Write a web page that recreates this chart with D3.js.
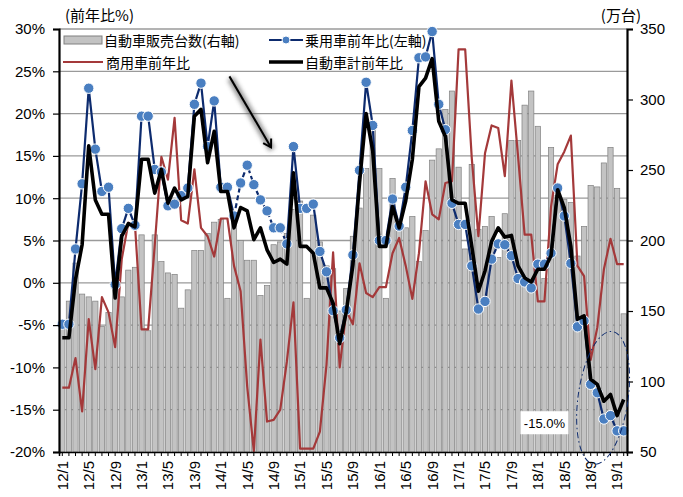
<!DOCTYPE html>
<html>
<head>
<meta charset="utf-8">
<script src="https://cdn.jsdelivr.net/npm/d3@7"></script>
<style>
  body { margin: 0; background: #fff; }
  svg { display: block; }
</style>
</head>
<body>
<svg id="chart"></svg>
<script>
// monthly categories 2012/1 - 2019/2
const months = [
  "12/1","12/2","12/3","12/4","12/5","12/6","12/7","12/8","12/9","12/10","12/11","12/12",
  "13/1","13/2","13/3","13/4","13/5","13/6","13/7","13/8","13/9","13/10","13/11","13/12",
  "14/1","14/2","14/3","14/4","14/5","14/6","14/7","14/8","14/9","14/10","14/11","14/12",
  "15/1","15/2","15/3","15/4","15/5","15/6","15/7","15/8","15/9","15/10","15/11","15/12",
  "16/1","16/2","16/3","16/4","16/5","16/6","16/7","16/8","16/9","16/10","16/11","16/12",
  "17/1","17/2","17/3","17/4","17/5","17/6","17/7","17/8","17/9","17/10","17/11","17/12",
  "18/1","18/2","18/3","18/4","18/5","18/6","18/7","18/8","18/9","18/10","18/11","18/12",
  "19/1","19/2"
];

// 自動車販売台数 (万台, right axis)
const sales = [
  137,157,184,162,160,157,139,149,169,160,179,181,
  204,136,204,185,177,176,152,165,193,193,205,213,
  215,159,214,200,186,186,161,168,197,199,205,222,
  228,159,218,199,182,180,150,166,203,223,251,279,
  251,159,244,212,209,217,185,207,257,265,293,306,
  252,194,254,208,210,217,188,219,271,271,296,306,
  281,173,266,232,229,227,189,210,239,238,255,266,
  237,148
];

// 乗用車前年比 (%)
const passengerYoY = [
  -4.9,-4.9,4.0,11.7,23.0,15.8,10.8,11.3,-0.2,6.4,8.8,6.8,
  19.7,19.7,13.4,13.1,9.1,9.3,10.3,11.2,21.1,23.6,16.1,21.5,
  11.3,11.3,7.9,11.8,13.9,11.6,9.8,8.5,6.5,6.5,4.6,16.1,
  8.8,8.8,9.3,3.7,1.3,-3.3,-6.5,-3.2,3.3,13.3,23.7,18.6,
  5.0,5.0,9.9,6.7,11.3,18.0,26.6,26.7,29.7,21.1,18.1,9.4,
  6.9,6.9,2.0,-3.1,-2.2,2.8,4.6,4.5,3.2,0.5,0.1,-0.6,
  2.2,2.2,3.5,11.2,7.9,2.3,-5.2,-4.5,-12.0,-13.0,-16.1,-15.7,
  -17.5,-17.5
];

// 商用車前年比 (%)
const commercialYoY = [
  -12.4,-12.4,-8.9,-15.2,-4.3,-10.2,-1.7,-3.5,-7.6,2.8,7.1,6.9,
  -5.5,-5.5,4.5,14.9,12.2,19.5,7.4,7.0,13.4,6.5,5.5,3.1,
  7.6,7.6,2.0,-1.0,-12.3,-19.9,-6.7,-16.4,-16.2,-15.0,-9.3,-2.3,
  -19.6,-19.6,-19.6,-17.6,-9.7,3.6,-10.0,-3.3,-4.9,2.3,-1.2,-1.7,
  -0.5,-0.5,3.5,5.3,2.0,-1.9,3.5,12.0,8.1,7.5,11.8,12.0,
  27.6,27.6,14.7,5.5,15.3,18.6,18.3,12.6,23.9,15.0,5.7,5.7,
  -2.2,-2.2,9.0,14.0,15.5,17.4,2.0,0.8,-9.1,-5.3,1.6,5.2,
  2.2,2.2
];

// 自動車計前年比 (%)
const totalYoY = [
  -6.5,-6.5,0.4,4.5,16.2,9.8,8.1,8.1,-1.8,5.5,7.0,6.6,
  14.6,14.6,10.6,13.4,9.4,11.2,9.8,10.2,19.7,20.5,14.2,17.9,
  10.8,10.8,6.5,8.9,8.5,5.1,6.5,3.9,2.4,2.8,2.2,13.0,
  4.3,4.3,3.5,-0.6,-0.6,-2.4,-7.2,-3.4,2.1,11.8,20.0,15.6,
  4.3,4.3,9.0,6.5,9.7,14.6,23.2,24.2,26.5,19.1,17.3,9.8,
  9.4,9.4,4.3,-1.0,1.4,4.9,6.5,5.4,5.6,2.0,0.6,0.1,
  1.6,1.6,3.2,11.0,8.9,4.3,-4.3,-3.9,-11.4,-12.0,-14.0,-13.2,
  -15.7,-13.8
];

const leftTicks = [-20,-15,-10,-5,0,5,10,15,20,25,30];
const rightTicks = [50,100,150,200,250,300,350];
const labelMonths = months.filter((d, i) => i % 4 === 0);
const dashedRange = ["14/3", "14/11"];   // blue line drawn dashed here
const callout = "-15.0%";

const width = 683, height = 497;
const margin = { top: 29, right: 56, bottom: 45, left: 59 };
const plotW = width - margin.left - margin.right,
      plotH = height - margin.top - margin.bottom;

const svg = d3.select("#chart")
    .attr("width", width)
    .attr("height", height);

const g = svg.append("g")
    .attr("transform", `translate(${margin.left},${margin.top})`);

const x = d3.scaleBand()
    .domain(months)
    .range([0, plotW])
    .paddingInner(0.2)
    .paddingOuter(0.1);
const cx = d => x(d) + x.bandwidth() / 2;

const yL = d3.scaleLinear().domain([-20, 30]).range([plotH, 0]);
const yR = d3.scaleLinear().domain([50, 350]).range([plotH, 0]);

const numFont = "'Liberation Sans', Arial, sans-serif";
const jpFont = "'Noto Sans CJK JP', 'Noto Sans', sans-serif";

// gridlines
g.append("g")
    .selectAll("line")
    .data(leftTicks.filter(t => t > -20))
    .enter().append("line")
    .attr("x1", 0).attr("x2", plotW)
    .attr("y1", d => yL(d)).attr("y2", d => yL(d))
    .attr("stroke", "#9a9a9a")
    .attr("stroke-width", 1.3);

// bars
g.append("g")
    .selectAll("rect")
    .data(sales)
    .enter().append("rect")
    .attr("x", (d, i) => x(months[i]))
    .attr("y", d => yR(d))
    .attr("width", x.bandwidth())
    .attr("height", d => plotH - yR(d))
    .attr("fill", "#c3c3c3")
    .attr("stroke", "#808080")
    .attr("stroke-width", 0.7);

// commercial line
const line = d3.line().x(d => cx(d.m)).y(d => yL(d.v));
const toPts = arr => arr.map((v, i) => ({ m: months[i], v }));

g.append("path")
    .datum(toPts(commercialYoY))
    .attr("d", line)
    .attr("fill", "none")
    .attr("stroke", "#a4393a")
    .attr("stroke-width", 2.2)
    .attr("stroke-linejoin", "round");

// passenger line (partly dashed)
const pPts = toPts(passengerYoY);
const d0 = months.indexOf(dashedRange[0]), d1 = months.indexOf(dashedRange[1]);
[[0, d0, null], [d0, d1, "5,3"], [d1, months.length - 1, null]].forEach(([a, b, dash]) => {
    g.append("path")
        .datum(pPts.slice(a, b + 1))
        .attr("d", line)
        .attr("fill", "none")
        .attr("stroke", "#0d2b6e")
        .attr("stroke-width", 2.2)
        .attr("stroke-dasharray", dash);
});

g.append("g")
    .selectAll("circle")
    .data(pPts)
    .enter().append("circle")
    .attr("cx", d => cx(d.m))
    .attr("cy", d => yL(d.v))
    .attr("r", 5.2)
    .attr("fill", "#4a7fc1")
    .attr("stroke", "#fff")
    .attr("stroke-width", 1);

// total line
g.append("path")
    .datum(toPts(totalYoY))
    .attr("d", line)
    .attr("fill", "none")
    .attr("stroke", "#000")
    .attr("stroke-width", 3.6)
    .attr("stroke-linejoin", "round");

// axes
const axL = g.append("g")
    .call(d3.axisLeft(yL).tickValues(leftTicks).tickFormat(d => d + "%").tickSize(6).tickPadding(8));
const axR = g.append("g")
    .attr("transform", `translate(${plotW},0)`)
    .call(d3.axisRight(yR).tickValues(rightTicks).tickSize(6).tickPadding(7));
[axL, axR].forEach(ax => {
    ax.select(".domain").attr("stroke", "#000").attr("stroke-width", 2.2);
    ax.selectAll(".tick line").attr("stroke", "#000").attr("stroke-width", 1.2);
    ax.selectAll("text")
        .style("font-family", numFont)
        .style("font-size", "15px")
        .attr("fill", "#000");
});

const axB = g.append("g")
    .attr("transform", `translate(0,${plotH})`)
    .call(d3.axisBottom(x).tickValues(months).tickSize(4).tickFormat(""));
axB.select(".domain").attr("stroke", "#000").attr("stroke-width", 1.5);
axB.selectAll(".tick line").attr("stroke", "#000");

g.append("g")
    .selectAll("text")
    .data(labelMonths)
    .enter().append("text")
    .attr("transform", d => `translate(${cx(d)},${plotH + 9}) rotate(-90)`)
    .attr("text-anchor", "end")
    .attr("dy", "0.36em")
    .style("font-family", numFont)
    .style("font-size", "15px")
    .text(d => d);

// axis titles
svg.append("text")
    .attr("x", 65).attr("y", 21)
    .style("font-family", jpFont)
    .style("font-size", "15px")
    .text("(前年比%)");
svg.append("text")
    .attr("x", 641).attr("y", 21)
    .attr("text-anchor", "end")
    .style("font-family", jpFont)
    .style("font-size", "15px")
    .text("(万台)");

// legend
const leg = g.append("g").style("font-family", jpFont).style("font-size", "14px");
leg.append("rect").attr("x", 5).attr("y", 7).attr("width", 38).attr("height", 8)
    .attr("fill", "#c3c3c3").attr("stroke", "#808080");
leg.append("text").attr("x", 45).attr("y", 16.5).text("自動車販売台数(右軸)");
leg.append("line").attr("x1", 210).attr("x2", 244).attr("y1", 11).attr("y2", 11)
    .attr("stroke", "#0d2b6e").attr("stroke-width", 2.2);
leg.append("circle").attr("cx", 227).attr("cy", 11).attr("r", 4)
    .attr("fill", "#4a7fc1").attr("stroke", "#fff");
leg.append("text").attr("x", 246).attr("y", 16.5).text("乗用車前年比(左軸)");
leg.append("line").attr("x1", 4).attr("x2", 44).attr("y1", 33).attr("y2", 33)
    .attr("stroke", "#a4393a").attr("stroke-width", 2.2);
leg.append("text").attr("x", 47).attr("y", 38.5).text("商用車前年比");
leg.append("line").attr("x1", 210).attr("x2", 244).attr("y1", 33).attr("y2", 33)
    .attr("stroke", "#000").attr("stroke-width", 3.6);
leg.append("text").attr("x", 246).attr("y", 38.5).text("自動車計前年比");

// arrow annotation
const defs = svg.append("defs");
defs.append("filter").attr("id", "blur")
    .attr("x", "-50%").attr("y", "-50%").attr("width", "200%").attr("height", "200%")
    .append("feGaussianBlur").attr("stdDeviation", 2.2);
const ax0 = cx("14/2") + 2, ay0 = yL(24.4), ax1 = cx("14/8") + 4, ay1 = yL(16.0);
g.append("line")
    .attr("x1", ax0 + 1).attr("y1", ay0 + 2).attr("x2", ax1 + 1).attr("y2", ay1 + 2)
    .attr("stroke", "#555").attr("stroke-width", 7).attr("opacity", 0.6)
    .attr("filter", "url(#blur)");
g.append("line")
    .attr("x1", ax0).attr("y1", ay0).attr("x2", ax1).attr("y2", ay1)
    .attr("stroke", "#000").attr("stroke-width", 2);
const ang = Math.atan2(ay1 - ay0, ax1 - ax0);
const head = [ang + 2.6, ang - 2.6].map(a => [ax1 + 9 * Math.cos(a), ay1 + 9 * Math.sin(a)]);
g.append("path")
    .attr("d", `M${head[0]}L${ax1},${ay1}L${head[1]}`)
    .attr("fill", "none").attr("stroke", "#000").attr("stroke-width", 2);

// callout box
const bx = cx("18/2"), by = yL(-16.6);
g.append("rect")
    .attr("x", bx - 24).attr("y", by - 12).attr("width", 48).attr("height", 23)
    .attr("fill", "#fff");
g.append("text")
    .attr("x", bx).attr("y", by + 5)
    .attr("text-anchor", "middle")
    .style("font-family", numFont)
    .style("font-size", "13px")
    .text(callout);

// highlight ellipse
g.append("ellipse")
    .attr("transform", `translate(${cx("19/1") - 14},${yL(-13.6)}) rotate(8)`)
    .attr("rx", 25).attr("ry", 67)
    .attr("fill", "none")
    .attr("stroke", "#0d2b6e")
    .attr("stroke-width", 1)
    .attr("stroke-dasharray", "6,3,1.5,3");
</script>
</body>
</html>
